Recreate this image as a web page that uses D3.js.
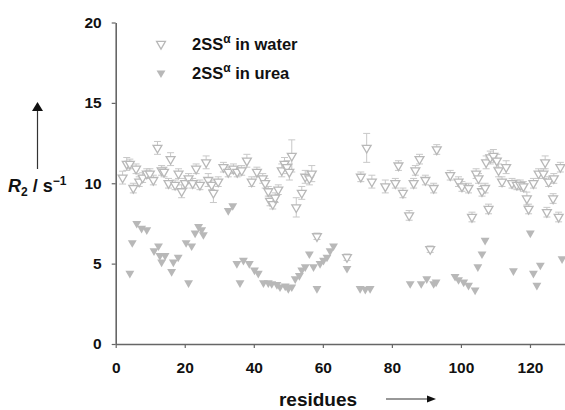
<!DOCTYPE html>
<html>
<head>
<meta charset="utf-8">
<script src="https://cdn.jsdelivr.net/npm/d3@7"></script>
<style>
  body { margin: 0; background: #fff; }
  text { font-family: Arial, "Liberation Sans", sans-serif; font-weight: bold; fill: #111; }
</style>
</head>
<body>
<div id="chart"></div>
<script>
// 2SS alpha in water: residue, R2, error
const waterResidues = [2.0, 3.2, 4.1, 5.1, 5.9, 6.8, 7.8, 9.0, 9.9, 10.9, 12.1, 13.3, 14.0, 15.3, 15.9, 17.2, 18.2, 19.1, 20.1, 21.1,
  22.3, 23.3, 24.4, 26.2, 26.8, 27.8, 28.3, 29.7, 31.2, 32.6, 34.1, 35.2, 36.5, 38.0, 39.4, 40.9, 42.6, 43.3, 44.2, 44.7,
  45.5, 46.2, 47.1, 48.1, 48.9, 49.6, 50.3, 51.0, 52.3, 53.9, 54.9, 56.1, 56.8, 58.3, 67.0, 71.0, 72.7, 74.2, 78.1, 81.0,
  81.9, 83.2, 85.0, 86.3, 86.8, 88.0, 89.7, 91.1, 92.1, 93.0, 96.9, 99.3, 100.3, 102.2, 103.2, 104.4, 105.1, 106.1, 107.0, 107.3,
  108.0, 108.5, 109.4, 110.4, 110.9, 111.9, 113.1, 114.8, 116.2, 117.2, 118.1, 119.1, 119.6, 121.0, 122.5, 123.9, 124.4, 124.9, 125.4, 126.7,
  126.9, 128.3, 128.8];
const waterR2 = [10.35, 11.2, 11.2, 9.7, 10.9, 10.1, 10.35, 10.6, 10.6, 10.2, 12.2, 10.8, 10.7, 10.0, 11.5, 9.9, 10.6, 9.5, 10.0, 10.3,
  10.0, 10.9, 9.9, 11.3, 10.2, 9.9, 9.4, 10.1, 11.0, 10.7, 10.9, 10.7, 10.8, 11.4, 10.1, 10.7, 10.3, 10.0, 9.5, 8.9,
  8.7, 9.1, 9.6, 10.8, 11.2, 11.0, 10.7, 11.7, 8.5, 9.4, 10.4, 10.3, 10.6, 6.7, 5.4, 10.4, 12.2, 10.1, 9.8, 10.0,
  11.1, 9.4, 8.0, 10.0, 10.8, 11.5, 10.2, 5.9, 9.7, 12.1, 10.5, 10.1, 9.8, 9.7, 7.9, 10.6, 10.3, 9.5, 9.7, 11.3,
  8.4, 11.6, 11.7, 11.4, 10.8, 10.1, 11.0, 10.0, 9.9, 9.9, 9.8, 9.05, 8.4, 10.0, 10.6, 10.6, 11.3, 8.2, 10.1, 9.05,
  10.3, 7.9, 11.0];
const waterErr = [0.4, 0.4, 0.3, 0.3, 0.3, 0.3, 0.3, 0.3, 0.3, 0.3, 0.4, 0.3, 0.3, 0.3, 0.4, 0.3, 0.3, 0.4, 0.3, 0.3,
  0.3, 0.3, 0.3, 0.4, 0.4, 0.3, 0.6, 0.3, 0.3, 0.3, 0.3, 0.3, 0.3, 0.4, 0.3, 0.3, 0.3, 0.3, 0.3, 0.3,
  0.3, 0.3, 0.3, 0.4, 0.4, 0.4, 0.5, 1.0, 0.6, 0.4, 0.4, 0.4, 0.5, 0.2, 0.2, 0.3, 0.9, 0.4, 0.4, 0.3,
  0.3, 0.3, 0.3, 0.3, 0.3, 0.3, 0.3, 0.2, 0.3, 0.3, 0.3, 0.3, 0.3, 0.3, 0.3, 0.3, 0.3, 0.3, 0.3, 0.4,
  0.3, 0.4, 0.4, 0.4, 0.4, 0.3, 0.4, 0.3, 0.3, 0.3, 0.3, 0.4, 0.3, 0.3, 0.3, 0.3, 0.4, 0.3, 0.3, 0.3,
  0.3, 0.3, 0.3];

// 2SS alpha in urea: residue, R2
const ureaResidues = [4.1, 4.8, 6.1, 7.5, 9.0, 11.1, 12.4, 12.8, 13.3, 14.3, 16.2, 16.7, 18.1, 20.4, 21.1, 22.0, 23.0, 24.0, 24.9, 25.4,
  32.6, 33.9, 35.1, 36.0, 37.0, 38.7, 40.2, 41.3, 42.8, 44.2, 45.2, 46.7, 47.6, 49.1, 50.0, 51.0, 52.0, 53.2, 53.9, 54.9,
  56.1, 57.3, 58.3, 59.2, 60.2, 61.2, 62.1, 63.1, 67.0, 70.8, 72.3, 73.7, 85.3, 88.5, 90.1, 92.1, 92.8, 98.3, 99.3, 100.8,
  102.2, 104.1, 104.9, 106.1, 107.0, 115.2, 120.1, 121.0, 122.0, 123.0, 129.3];
const ureaR2 = [4.4, 6.3, 7.5, 7.2, 7.1, 5.8, 6.1, 5.5, 5.1, 5.5, 4.5, 5.1, 5.4, 6.3, 3.8, 6.1, 6.9, 7.3, 7.1, 6.8,
  8.3, 8.6, 5.0, 3.8, 5.2, 5.0, 4.6, 4.4, 3.8, 3.8, 3.75, 3.7, 3.55, 3.6, 3.45, 3.55, 4.05, 4.25, 4.6, 4.8,
  5.6, 4.8, 3.45, 5.0, 5.2, 5.4, 5.8, 6.1, 4.7, 3.45, 3.4, 3.45, 3.75, 3.75, 4.05, 3.75, 3.85, 4.2, 4.0, 3.85,
  3.65, 3.35, 4.8, 5.6, 6.45, 4.55, 6.9, 4.4, 3.65, 4.9, 5.3];

const xTicks = [0, 20, 40, 60, 80, 100, 120];
const yTicks = [0, 5, 10, 15, 20];

const width = 565, height = 410;
const margin = {top: 22.5, right: 0.5, bottom: 66, left: 115.7};

const svg = d3.select('#chart')
  .append('svg')
  .attr('width', width)
  .attr('height', height);

const xScale = d3.scaleLinear()
  .domain([0, 130])
  .range([margin.left, width - margin.right]);

const yScale = d3.scaleLinear()
  .domain([0, 20])
  .range([height - margin.bottom, margin.top]);

const grey = '#b8b8b8';
const axisColor = '#666';

// Axes
const xAxis = svg.append('g')
  .attr('transform', `translate(0,${yScale(0)})`)
  .call(d3.axisBottom(xScale).tickValues(xTicks).tickSize(4).tickSizeOuter(0).tickPadding(14));

const yAxis = svg.append('g')
  .attr('transform', `translate(${xScale(0)},0)`)
  .call(d3.axisLeft(yScale).tickValues(yTicks).tickSize(4).tickSizeOuter(0).tickPadding(10));

[xAxis, yAxis].forEach(ax => {
  ax.select('.domain').attr('stroke', axisColor).attr('stroke-width', 1.6);
  ax.selectAll('.tick line').attr('stroke', axisColor).attr('stroke-width', 1.2);
  ax.selectAll('.tick text')
    .attr('font-size', 15.5)
    .attr('font-weight', 'bold')
    .attr('font-family', 'Arial, "Liberation Sans", sans-serif')
    .attr('fill', '#111');
});

// Triangle pointing down
const tri = d3.symbol().type(d3.symbolTriangle).size(34);

const water = waterResidues.map((r, i) => ({res: r, val: waterR2[i], err: waterErr[i]}));
const urea = ureaResidues.map((r, i) => ({res: r, val: ureaR2[i]}));

// Urea markers
svg.append('g')
  .selectAll('path')
  .data(urea)
  .enter()
  .append('path')
  .attr('d', tri)
  .attr('transform', d => `translate(${xScale(d.res)},${yScale(d.val)}) rotate(180)`)
  .attr('fill', grey);

// Water error bars
const bars = svg.append('g')
  .attr('stroke', '#c8c8c8')
  .attr('stroke-width', 1);

water.forEach(d => {
  const x = xScale(d.res);
  const y1 = yScale(d.val - d.err), y2 = yScale(d.val + d.err);
  bars.append('line').attr('x1', x).attr('x2', x).attr('y1', y1).attr('y2', y2);
  bars.append('line').attr('x1', x - 3.5).attr('x2', x + 3.5).attr('y1', y1).attr('y2', y1);
  bars.append('line').attr('x1', x - 3.5).attr('x2', x + 3.5).attr('y1', y2).attr('y2', y2);
});

// Water markers
svg.append('g')
  .selectAll('path')
  .data(water)
  .enter()
  .append('path')
  .attr('d', tri)
  .attr('transform', d => `translate(${xScale(d.res)},${yScale(d.val)}) rotate(180)`)
  .attr('fill', '#fff')
  .attr('stroke', grey)
  .attr('stroke-width', 1.3);

// Legend
const legend = svg.append('g');
const legendItems = [
  {label: ' in water', open: true, y: 44},
  {label: ' in urea', open: false, y: 73}
];
legendItems.forEach(item => {
  legend.append('path')
    .attr('d', tri)
    .attr('transform', `translate(161,${item.y}) rotate(180)`)
    .attr('fill', item.open ? '#fff' : grey)
    .attr('stroke', item.open ? grey : 'none')
    .attr('stroke-width', 1.3);
  const t = legend.append('text')
    .attr('x', 192)
    .attr('y', item.y + 6)
    .attr('font-size', 16.5);
  t.append('tspan').text('2SS');
  t.append('tspan').attr('dy', -7).attr('font-size', 12).text('α');
  t.append('tspan').attr('dy', 7).text(item.label);
});

// Y axis label with arrow
const yLab = svg.append('text')
  .attr('x', 8)
  .attr('y', 192)
  .attr('font-size', 18);
yLab.append('tspan').attr('font-style', 'italic').text('R');
yLab.append('tspan').attr('dy', 4).attr('font-size', 12).text('2');
yLab.append('tspan').attr('dy', -4).text(' / s');
yLab.append('tspan').attr('dy', -7).attr('font-size', 12).text('−1');

svg.append('line')
  .attr('x1', 37.5).attr('x2', 37.5)
  .attr('y1', 169).attr('y2', 110)
  .attr('stroke', '#333').attr('stroke-width', 1.2);
svg.append('path')
  .attr('d', 'M32,111 L37.5,102 L43,111 Z')
  .attr('fill', '#111');

// X axis label with arrow
svg.append('text')
  .attr('x', 318)
  .attr('y', 406)
  .attr('text-anchor', 'middle')
  .attr('font-size', 19)
  .text('residues');

svg.append('line')
  .attr('x1', 386).attr('x2', 428)
  .attr('y1', 399).attr('y2', 399)
  .attr('stroke', '#333').attr('stroke-width', 1.2);
svg.append('path')
  .attr('d', 'M427,395.5 L436,399 L427,402.5 Z')
  .attr('fill', '#111');
</script>
</body>
</html>
